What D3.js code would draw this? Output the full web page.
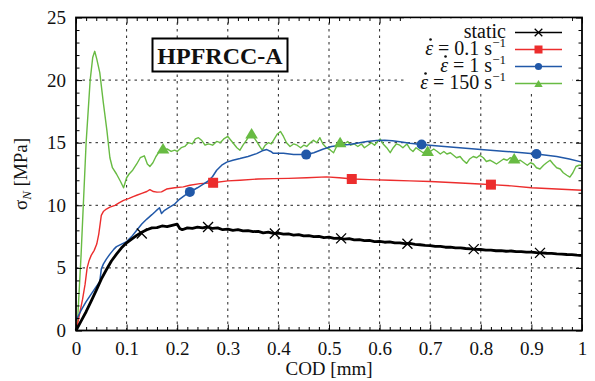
<!DOCTYPE html>
<html>
<head>
<meta charset="utf-8">
<script src="https://cdn.jsdelivr.net/npm/d3@7"></script>
<style>
  html, body { margin: 0; padding: 0; background: #fff; }
  svg { display: block; }
  svg text { font-family: "Liberation Serif", "DejaVu Serif", "Times New Roman", Times, serif; fill: #111; }
</style>
</head>
<body>
<svg id="chart" width="595" height="381"></svg>
<script>
// ---- data: COD [mm] vs nominal stress sigma_N [MPa] ----
const xTicks = [0, 0.1, 0.2, 0.3, 0.4, 0.5, 0.6, 0.7, 0.8, 0.9, 1];
const xTickLabels = ["0", "0.1", "0.2", "0.3", "0.4", "0.5", "0.6", "0.7", "0.8", "0.9", "1"];
const yTicks = [0, 5, 10, 15, 20, 25];
const yTickLabels = ["0", "5", "10", "15", "20", "25"];
const xMinor = [0.02,0.04,0.06,0.08,0.12,0.14,0.16,0.18,0.22,0.24,0.26,0.28,0.32,0.34,0.36,0.38,0.42,0.44,0.46,0.48,0.52,0.54,0.56,0.58,0.62,0.64,0.66,0.68,0.72,0.74,0.76,0.78,0.82,0.84,0.86,0.88,0.92,0.94,0.96,0.98];
const yMinor = [1,2,3,4,6,7,8,9,11,12,13,14,16,17,18,19,21,22,23,24];

const seriesNames = ["static", "0.1", "1", "150"];

const staticCurve = [
  [0,0],[0.01,0.75],[0.02,1.5],[0.03,2.35],[0.04,3.2],[0.05,4.1],[0.06,4.85],[0.07,5.55],[0.08,6.1],[0.09,6.6],
  [0.10,7.0],[0.11,7.3],[0.12,7.6],[0.13,7.85],[0.14,8.05],[0.15,8.2],[0.16,8.22],[0.17,8.35],[0.18,8.3],[0.19,8.4],
  [0.20,8.5],[0.205,8.15],[0.21,8.05],[0.22,8.2],[0.23,8.15],[0.24,8.25],[0.25,8.2],[0.26,8.28],[0.27,8.15],[0.28,8.2],
  [0.29,8.05],[0.30,8.1],[0.31,8.0],[0.32,8.05],[0.33,7.95],[0.34,7.98],[0.35,7.9],[0.36,7.92],[0.37,7.8],[0.38,7.85],
  [0.39,7.75],[0.40,7.78],[0.41,7.7],[0.42,7.72],[0.43,7.62],[0.44,7.66],[0.45,7.55],[0.46,7.58],[0.47,7.5],[0.48,7.52],
  [0.49,7.42],[0.50,7.45],[0.51,7.36],[0.52,7.38],[0.53,7.3],[0.54,7.33],[0.55,7.24],[0.56,7.25],[0.57,7.18],[0.58,7.2],
  [0.59,7.1],[0.60,7.12],[0.61,7.05],[0.62,7.08],[0.63,7.0],[0.64,7.0],[0.65,6.93],[0.66,6.95],[0.67,6.88],[0.68,6.85],
  [0.69,6.8],[0.70,6.78],[0.71,6.72],[0.72,6.72],[0.73,6.65],[0.74,6.66],[0.75,6.6],[0.76,6.6],[0.77,6.55],[0.78,6.52],
  [0.79,6.48],[0.80,6.47],[0.81,6.42],[0.82,6.42],[0.83,6.37],[0.84,6.38],[0.85,6.33],[0.86,6.35],[0.87,6.3],[0.88,6.3],
  [0.89,6.26],[0.90,6.26],[0.91,6.22],[0.92,6.2],[0.93,6.17],[0.94,6.16],[0.95,6.12],[0.96,6.1],[0.97,6.07],[0.98,6.06],
  [0.99,6.02],[1.0,6.0]
];

const rate01Curve = [
  [0,0],[0.003,0.5],[0.008,1.5],[0.013,2.5],[0.018,3.7],[0.022,5.0],[0.026,5.6],[0.03,6.0],[0.036,6.4],[0.041,6.9],
  [0.045,7.7],[0.048,8.6],[0.05,9.2],[0.054,9.5],[0.06,9.7],[0.067,9.85],[0.077,10.0],[0.085,10.2],[0.094,10.4],
  [0.105,10.55],[0.113,10.7],[0.12,10.8],[0.13,10.95],[0.14,11.1],[0.146,11.25],[0.153,11.1],[0.16,11.05],[0.169,11.07],
  [0.179,11.3],[0.195,11.4],[0.212,11.47],[0.225,11.6],[0.245,11.73],[0.271,11.8],[0.3,11.95],[0.324,12.0],[0.36,12.1],
  [0.39,12.13],[0.42,12.15],[0.456,12.2],[0.495,12.27],[0.52,12.2],[0.548,12.1],[0.58,12.05],[0.621,12.0],[0.66,11.95],
  [0.7,11.9],[0.75,11.8],[0.798,11.7],[0.82,11.65],[0.86,11.55],[0.9,11.4],[0.95,11.3],[1.0,11.2]
];

const rate1Curve = [
  [0,0.8],[0.01,1.6],[0.02,2.3],[0.03,2.9],[0.04,3.5],[0.047,3.9],[0.05,4.9],[0.054,5.3],[0.06,5.7],[0.067,6.1],
  [0.075,6.5],[0.08,6.7],[0.09,6.9],[0.1,7.1],[0.11,7.5],[0.12,8.0],[0.13,8.5],[0.14,8.9],[0.15,9.25],[0.158,9.55],
  [0.165,9.8],[0.169,9.35],[0.175,9.6],[0.185,9.85],[0.195,10.1],[0.205,10.5],[0.215,10.8],[0.225,11.05],[0.24,11.4],
  [0.25,11.65],[0.26,11.9],[0.27,12.3],[0.278,12.8],[0.288,13.2],[0.298,13.45],[0.31,13.6],[0.324,13.73],[0.34,13.9],
  [0.357,14.13],[0.368,14.35],[0.377,14.45],[0.385,14.3],[0.39,14.15],[0.41,14.15],[0.43,14.05],[0.456,14.05],
  [0.47,14.2],[0.489,14.5],[0.505,14.7],[0.522,14.8],[0.54,14.85],[0.555,14.95],[0.575,15.1],[0.594,15.18],[0.61,15.2],
  [0.625,15.15],[0.64,15.07],[0.66,14.95],[0.683,14.85],[0.71,14.75],[0.752,14.62],[0.8,14.45],[0.85,14.3],[0.91,14.1],
  [0.95,13.9],[0.975,13.7],[1.0,13.45]
];

const rate150Curve = [
  [0,0],[0.003,0.7],[0.01,6],[0.02,15],[0.028,20],[0.033,21.8],[0.037,22.3],[0.041,21.7],[0.047,20.6],[0.054,18.2],
  [0.061,16.0],[0.067,13.8],[0.072,13.0],[0.08,12.5],[0.088,11.9],[0.094,11.4],[0.1,12.2],[0.105,12.5],[0.112,12.8],
  [0.12,13.3],[0.127,13.8],[0.135,13.95],[0.141,13.3],[0.146,13.1],[0.152,13.4],[0.158,13.9],[0.165,14.3],[0.172,14.4],
  [0.18,14.5],[0.188,14.3],[0.195,14.4],[0.2,14.3],[0.208,14.6],[0.215,14.7],[0.222,15.0],[0.23,14.9],[0.236,15.3],
  [0.242,15.4],[0.248,15.2],[0.255,14.8],[0.262,14.9],[0.27,14.8],[0.278,15.1],[0.285,15.0],[0.292,15.3],[0.3,15.5],
  [0.306,15.2],[0.312,14.9],[0.318,14.6],[0.324,14.4],[0.33,14.8],[0.337,15.2],[0.343,15.6],[0.35,15.5],[0.357,15.1],
  [0.363,14.7],[0.368,14.4],[0.374,14.8],[0.38,15.0],[0.386,14.9],[0.392,15.3],[0.398,15.7],[0.404,15.9],[0.41,15.5],
  [0.416,15.0],[0.423,14.7],[0.43,14.9],[0.437,14.8],[0.444,14.6],[0.45,14.8],[0.456,14.7],[0.463,15.0],[0.469,15.2],
  [0.476,15.0],[0.482,15.4],[0.488,14.9],[0.495,14.6],[0.503,14.4],[0.509,14.2],[0.515,14.7],[0.522,15.0],[0.53,14.9],
  [0.537,15.1],[0.543,14.8],[0.55,14.9],[0.557,14.7],[0.564,14.9],[0.57,14.6],[0.577,14.8],[0.584,15.0],[0.59,14.8],
  [0.596,15.1],[0.601,15.3],[0.607,14.9],[0.614,14.6],[0.621,14.2],[0.627,14.6],[0.633,14.9],[0.64,14.8],[0.646,14.6],
  [0.654,14.9],[0.66,14.5],[0.666,14.3],[0.672,14.6],[0.679,14.4],[0.686,14.2],[0.693,14.4],[0.7,14.3],[0.707,14.5],
  [0.714,14.3],[0.72,14.1],[0.727,14.3],[0.733,14.1],[0.74,14.2],[0.746,14.0],[0.752,13.8],[0.759,13.9],[0.765,13.6],
  [0.772,13.35],[0.778,13.7],[0.785,13.9],[0.792,13.8],[0.798,14.0],[0.805,13.8],[0.811,13.5],[0.818,13.6],[0.825,13.45],
  [0.831,13.3],[0.838,13.5],[0.845,13.7],[0.852,13.6],[0.858,13.8],[0.865,13.7],[0.872,13.5],[0.878,13.6],[0.885,13.4],
  [0.892,13.2],[0.898,13.4],[0.904,13.3],[0.91,13.0],[0.917,12.9],[0.924,13.2],[0.93,13.4],[0.937,13.6],[0.943,13.3],
  [0.95,13.0],[0.957,12.9],[0.963,12.6],[0.97,12.4],[0.976,12.25],[0.982,12.6],[0.988,13.1],[0.994,13.2],[1.0,13.2]
];

// marker positions along each curve
const staticMarks = [[0.13,7.75],[0.261,8.27],[0.393,7.75],[0.524,7.36],[0.655,6.93],[0.786,6.5],[0.917,6.2]];
const rate01Marks = [[0.271,11.8],[0.545,12.1],[0.82,11.65]];
const rate1Marks = [[0.225,11.07],[0.455,14.05],[0.683,14.85],[0.91,14.1]];
const rate150Marks = [[0.172,14.5],[0.347,15.7],[0.522,15.0],[0.695,14.3],[0.866,13.7]];

// ---- layout ----
const FONT = '"Liberation Serif", "DejaVu Serif", "Times New Roman", Times, serif';
const svg = d3.select("#chart");
const x = d3.scaleLinear().domain([0, 1]).range([76, 582]);
const y = d3.scaleLinear().domain([0, 25]).range([330.5, 17.5]);
const [x0, x1] = x.range();
const [y0, y1] = y.range();

const colors = { static: "#000000", r01: "#ec2d2d", r1: "#2158a8", r150: "#68bb43" };

// grid
const grid = svg.append("g").attr("stroke", "#222").attr("stroke-width", 1).attr("stroke-dasharray", "2.5,4");
grid.selectAll("line.gx").data(xTicks.slice(1, -1)).join("line")
  .attr("x1", d => x(d)).attr("x2", d => x(d)).attr("y1", y0).attr("y2", y1);
grid.selectAll("line.gy").data(yTicks.slice(1, -1)).join("line")
  .attr("y1", d => y(d)).attr("y2", d => y(d)).attr("x1", x0).attr("x2", x1);

// curves
const line = d3.line().x(d => x(d[0])).y(d => y(d[1]));
const plot = svg.append("g");
plot.append("path").datum(rate150Curve).attr("d", line).attr("fill", "none")
  .attr("stroke", colors.r150).attr("stroke-width", 1.4).attr("stroke-linejoin", "round");
plot.append("path").datum(rate01Curve).attr("d", line).attr("fill", "none")
  .attr("stroke", colors.r01).attr("stroke-width", 1.4).attr("stroke-linejoin", "round");
plot.append("path").datum(rate1Curve).attr("d", line).attr("fill", "none")
  .attr("stroke", colors.r1).attr("stroke-width", 1.5).attr("stroke-linejoin", "round");
plot.append("path").datum(staticCurve).attr("d", line).attr("fill", "none")
  .attr("stroke", colors.static).attr("stroke-width", 2.8).attr("stroke-linejoin", "round");

// marker shapes
function cross(g, cx, cy, s, w) {
  g.append("path").attr("d", `M${cx - s},${cy - s}L${cx + s},${cy + s}M${cx - s},${cy + s}L${cx + s},${cy - s}`)
    .attr("stroke", "#000").attr("stroke-width", w).attr("fill", "none");
}
function square(g, cx, cy, s, c) {
  g.append("rect").attr("x", cx - s).attr("y", cy - s).attr("width", 2 * s).attr("height", 2 * s).attr("fill", c);
}
function dot(g, cx, cy, r, c) {
  g.append("circle").attr("cx", cx).attr("cy", cy).attr("r", r).attr("fill", c);
}
function tri(g, cx, cy, s, c) {
  g.append("path").attr("d", `M${cx},${cy - s}L${cx + s * 1.05},${cy + s * 0.75}L${cx - s * 1.05},${cy + s * 0.75}Z`).attr("fill", c);
}

const marks = svg.append("g");
rate150Marks.forEach(d => tri(marks, x(d[0]), y(d[1]), 6, colors.r150));
rate01Marks.forEach(d => square(marks, x(d[0]), y(d[1]), 5, colors.r01));
rate1Marks.forEach(d => dot(marks, x(d[0]), y(d[1]), 5, colors.r1));
staticMarks.forEach(d => cross(marks, x(d[0]), y(d[1]), 5, 1.3));

// axes: labels and inward ticks on all four sides
const axisStyle = g => {
  g.attr("font-family", FONT);
  g.select(".domain").remove();
  g.selectAll(".tick line").attr("stroke", "#000").attr("stroke-width", 1);
  g.selectAll(".tick text").attr("font-size", 19).attr("fill", "#111");
};
svg.append("g").attr("transform", `translate(0,${y0})`)
  .call(d3.axisBottom(x).tickValues(xTicks).tickSize(-6).tickPadding(11).tickFormat((d, i) => xTickLabels[i]))
  .call(axisStyle);
svg.append("g").attr("transform", `translate(0,${y0})`)
  .call(d3.axisBottom(x).tickValues(xMinor).tickSize(-3.5).tickFormat("")).call(axisStyle);
svg.append("g").attr("transform", `translate(0,${y1})`)
  .call(d3.axisTop(x).tickValues(xTicks).tickSize(-6).tickFormat("")).call(axisStyle);
svg.append("g").attr("transform", `translate(0,${y1})`)
  .call(d3.axisTop(x).tickValues(xMinor).tickSize(-3.5).tickFormat("")).call(axisStyle);
svg.append("g").attr("transform", `translate(${x0},0)`)
  .call(d3.axisLeft(y).tickValues(yTicks).tickSize(-6).tickPadding(10).tickFormat((d, i) => yTickLabels[i]))
  .call(axisStyle);
svg.append("g").attr("transform", `translate(${x0},0)`)
  .call(d3.axisLeft(y).tickValues(yMinor).tickSize(-3.5).tickFormat("")).call(axisStyle);
svg.append("g").attr("transform", `translate(${x1},0)`)
  .call(d3.axisRight(y).tickValues(yTicks).tickSize(-6).tickFormat("")).call(axisStyle);
svg.append("g").attr("transform", `translate(${x1},0)`)
  .call(d3.axisRight(y).tickValues(yMinor).tickSize(-3.5).tickFormat("")).call(axisStyle);

// frame
svg.append("rect").attr("x", x0).attr("y", y1).attr("width", x1 - x0).attr("height", y0 - y1)
  .attr("fill", "none").attr("stroke", "#000").attr("stroke-width", 1.8);

// axis titles
svg.append("text").attr("x", (x0 + x1) / 2).attr("y", 375).attr("text-anchor", "middle")
  .attr("font-family", FONT).attr("font-size", 19).text("COD [mm]");
const yl = svg.append("text").attr("transform", `translate(27,${(y0 + y1) / 2}) rotate(-90)`)
  .attr("text-anchor", "middle").attr("font-family", FONT).attr("font-size", 19);
yl.append("tspan").text("σ");
yl.append("tspan").attr("font-style", "italic").attr("font-size", 13).attr("dy", 4).text("N");
yl.append("tspan").attr("dy", -4).text(" [MPa]");

// legend
const leg = svg.append("g");
leg.append("rect").attr("x", 404).attr("y", y1 + 1).attr("width", 168).attr("height", 72).attr("fill", "#fff");
const legRows = [
  { name: seriesNames[0], c: colors.static, yy: 32.5 },
  { name: seriesNames[1], c: colors.r01, yy: 49.5 },
  { name: seriesNames[2], c: colors.r1, yy: 66.5 },
  { name: seriesNames[3], c: colors.r150, yy: 83.5 }
];
const lx0 = 515, lx1 = 562, lxm = (lx0 + lx1) / 2, textEnd = 506;
legRows.forEach((r, i) => {
  leg.append("line").attr("x1", lx0).attr("x2", lx1).attr("y1", r.yy).attr("y2", r.yy)
    .attr("stroke", r.c).attr("stroke-width", i === 0 ? 1.6 : 1.4);
  const t = leg.append("text").attr("x", textEnd).attr("y", r.yy + 5.5).attr("text-anchor", "end")
    .attr("font-family", FONT).attr("font-size", 20);
  if (i === 0) {
    t.text(r.name);
  } else {
    t.append("tspan").attr("font-style", "italic").text("ε");
    t.append("tspan").text(" = " + r.name + " s");
    t.append("tspan").attr("font-size", 13).attr("dy", -8).text("−1");
    // time-derivative dot above the strain-rate symbol
    const b = t.node().getExtentOfChar(0);
    leg.append("circle").attr("cx", b.x + b.width * 0.55 + 1).attr("cy", b.y + 2.5)
      .attr("r", 1.3).attr("fill", "#111");
  }
});
cross(leg, lxm, legRows[0].yy, 3.8, 1.3);
square(leg, lxm, legRows[1].yy, 4, colors.r01);
dot(leg, lxm, legRows[2].yy, 3.6, colors.r1);
tri(leg, lxm, legRows[3].yy + 0.5, 4, colors.r150);

// specimen label box
svg.append("rect").attr("x", 152.5).attr("y", 38.5).attr("width", 135).attr("height", 33)
  .attr("fill", "#fff").attr("stroke", "#000").attr("stroke-width", 2);
svg.append("text").attr("x", 220).attr("y", 64).attr("text-anchor", "middle")
  .attr("font-family", FONT).attr("font-size", 24).attr("font-weight", "bold").text("HPFRCC-A");
</script>
</body>
</html>
